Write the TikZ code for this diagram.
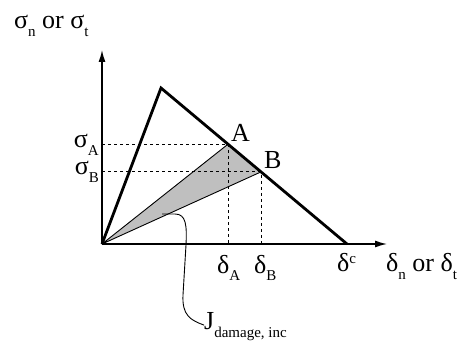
\documentclass[tikz,border=0pt]{standalone}
\usepackage{fontspec}
\setmainfont{Liberation Serif}
\usetikzlibrary{arrows.meta, positioning}

\newcommand{\lo}[1]{\raisebox{-8pt}{\fontsize{15}{15}\selectfont #1}}
\newcommand{\hi}[1]{\raisebox{8pt}{\fontsize{15}{15}\selectfont #1}}

\begin{document}
\begin{tikzpicture}[x=1pt, y=-1pt,
    axis/.style={line width=1.4pt, -{Latex[length=12pt, width=7pt]}},
    law/.style={line width=2.8pt, line join=miter},
    guide/.style={line width=1pt, dash pattern=on 3pt off 3pt},
    area/.style={fill=black!25, draw=black, line width=0.9pt, line join=round},
    lbl/.style={font=\fontsize{26}{26}\selectfont, inner sep=0pt}]

\useasboundingbox (0,0) rectangle (467,345);

% points of the law
\coordinate (O) at (102,244);
\coordinate (ytop) at (102,50);
\coordinate (xend) at (387,244);
\coordinate (peak) at (161,88);
\coordinate (dc) at (347,244);
\coordinate (A) at (228,144.2);
\coordinate (B) at (261,171.9);

% damage increment
\draw[area] (O) -- (A) -- (B) -- cycle;

% guides
\draw[guide] (O |- A) -- (A) -- (A |- O);
\draw[guide] (O |- B) -- (B) -- (B |- O);

% axes
\draw[axis] (O) -- (ytop);
\draw[axis] (O) -- (xend);

% bilinear law
\draw[law] (O) -- (peak) -- (dc);

% labels
\node[lbl, anchor=base west] (ylab) at (14,29) {σ\lo{n} or σ\lo{t}};
\node[lbl, anchor=base west] (xlab) at (386,272) {δ\lo{n} or δ\lo{t}};
\node[lbl, anchor=base east] (sA) at (99,148) {σ\lo{A}};
\node[lbl, anchor=base east] (sB) at (99,175) {σ\lo{B}};
\node[lbl, anchor=base west] (Alab) at (231,142) {A};
\node[lbl, anchor=base west] (Blab) at (264,169) {B};
\node[lbl, anchor=base west] (dA) at (217,273) {δ\lo{A}};
\node[lbl, anchor=base west] (dB) at (254,273) {δ\lo{B}};
\node[lbl, anchor=base west] (dclab) at (337,272) {δ\hi{c}};
\node[lbl, anchor=base west] (J) at (204,330) {J\lo{damage, inc}};

% leader
\coordinate (lead) at (162,214);
\draw[line width=0.9pt] (lead) -- (175,214)
    .. controls (186,214) and (187,225) .. (186,245)
    -- (183,295) .. controls (182,315) and (190,320) .. ([yshift=2pt]J.west);
\end{tikzpicture}
\end{document}
